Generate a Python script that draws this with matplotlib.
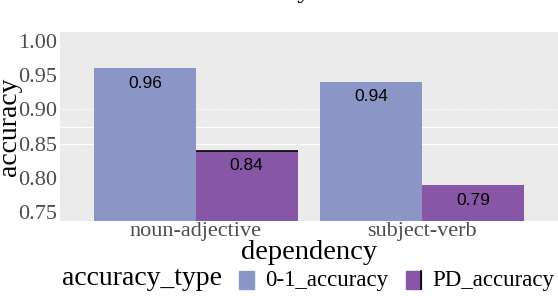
import numpy as np
import matplotlib.pyplot as plt
from matplotlib.patches import Rectangle

# data
dependency = ['noun-adjective', 'subject-verb']
acc_types = ['0-1_accuracy', 'PD_accuracy']
acc_01 = [0.96, 0.94]
acc_pd = [0.84, 0.79]
y_ticks = [0.75, 0.80, 0.85, 0.90, 0.95, 1.00]
colors = ['#8C96C6', '#8856A7']

plt.rcParams['font.family'] = ['Liberation Serif', 'DejaVu Serif']

W, H = 558, 296
fig = plt.figure(figsize=(W / 100, H / 100), dpi=100)

ax = fig.add_axes([60 / W, 75 / H, 498 / W, 189 / H])
ax.set_facecolor('#EBEBEB')
for s in ax.spines.values():
    s.set_visible(False)

# odd grid lines visible in the panel
ax.axhline(0.90, color='white', lw=0.8, ls=(0, (1, 1)), zorder=0.5)
ax.axhline(0.875, color='white', lw=1.0, zorder=0.5)
ax.axhline(0.85, color='white', lw=1.0, zorder=0.5)

x = np.arange(1, len(dependency) + 1)
bw = 0.45
bars1 = ax.bar(x - bw / 2, acc_01, bw, color=colors[0], zorder=2)
bars2 = ax.bar(x + bw / 2, acc_pd, bw, color=colors[1], zorder=2)

for bars in (bars1, bars2):
    for b in bars:
        h = b.get_height()
        ax.text(b.get_x() + b.get_width() / 2, h - 0.022, '%.2f' % h,
                ha='center', va='center', fontsize=12.5,
                family=['Liberation Sans', 'DejaVu Sans'], zorder=3)

# black edge on top of the first PD bar
b = bars2[0]
ax.hlines(b.get_height(), b.get_x(), b.get_x() + b.get_width(),
          color='black', lw=1.2, zorder=3)

ax.set_xlim(0.4, 2.6)
ax.set_ylim(0.7375, 1.0125)
ax.set_xticks(x)
ax.set_xticklabels(dependency)
ax.set_yticks(y_ticks)
ax.set_yticklabels(['%.2f' % v for v in y_ticks])
ax.tick_params(length=0, labelsize=16, labelcolor='#4D4D4D')
ax.tick_params(axis='x', pad=1)
ax.tick_params(axis='y', pad=2)

fig.text(9.5 / W, 1 - 126.5 / H, 'accuracy', rotation=90, ha='center',
         va='center', fontsize=20)
fig.text(309 / W, (H - 259) / H, 'dependency', ha='center', va='baseline',
         fontsize=20.5)

# title, mostly cut off at the top
fig.text(312 / W, 1 + 3 / H, 'Accuracy', ha='right', va='baseline',
         fontsize=20)

# legend at the bottom
fig.text(62 / W, (H - 285) / H, 'accuracy_type', va='baseline', fontsize=20)
key_x = [239, 406]
lab_x = [265, 432]
for i in range(len(acc_types)):
    fig.patches.append(Rectangle((key_x[i] / W, (H - 289) / H), 15 / W, 18 / H,
                                 transform=fig.transFigure, color=colors[i]))
    fig.text(lab_x[i] / W, (H - 286) / H, acc_types[i], va='baseline',
             fontsize=16.5)
fig.add_artist(plt.Line2D([421 / W, 421 / W], [(H - 289) / H, (H - 271) / H],
                          transform=fig.transFigure, color='black', lw=1.2))

fig.savefig('out.png', dpi=100)
